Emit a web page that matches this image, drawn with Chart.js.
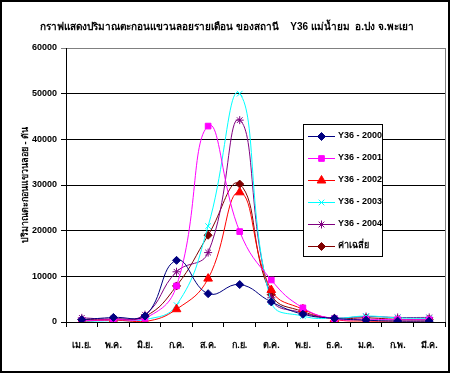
<!DOCTYPE html>
<html>
<head>
<meta charset="utf-8">
<script src="https://cdn.jsdelivr.net/npm/chart.js@4/dist/chart.umd.min.js"></script>
<style>
  html, body { margin: 0; padding: 0; background: #fff; }
  #wrap { position: relative; width: 451px; height: 374px; }
</style>
</head>
<body>
<div id="wrap"><canvas id="lineChart" width="451" height="374"></canvas></div>
<script>
// ข้อมูลตะกอนแขวนลอยรายเดือน สถานี Y36
const months = ['เม.ย.', 'พ.ค.', 'มิ.ย.', 'ก.ค.', 'ส.ค.', 'ก.ย.', 'ต.ค.', 'พ.ย.', 'ธ.ค.', 'ม.ค.', 'ก.พ.', 'มี.ค.'];
const y2000 = [500, 1000, 1300, 13500, 6200, 8200, 4400, 1700, 800, 400, 200, 200];
const y2001 = [300, 500, 800, 7900, 42900, 19800, 9200, 3100, 700, 600, 500, 500];
const y2002 = [200, 400, 100, 2800, 9500, 28400, 7000, 2800, 600, 200, 200, 200];
const y2003 = [100, 300, 500, 3700, 21000, 50000, 4400, 1300, 800, 1300, 900, 800];
const y2004 = [900, 700, 1600, 11000, 15200, 44200, 5300, 2000, 900, 1200, 1000, 1000];
const yAvg = [500, 600, 1200, 7900, 19000, 30200, 6000, 2300, 800, 900, 600, 600];
const yTicks = [0, 10000, 20000, 30000, 40000, 50000, 60000];

const FONT = '"Liberation Sans", "Noto Sans", sans-serif';

function series(label, data, color, style, radius) {
    return {
        label: label,
        data: data,
        borderColor: color,
        backgroundColor: color,
        pointStyle: style,
        pointRadius: radius,
        pointBorderColor: color,
        pointBackgroundColor: color,
        borderWidth: 1,
        tension: 0.45
    };
}

// กรอบรูป, ขอบพื้นที่กราฟ และคำอธิบายสัญลักษณ์
const frame = {
    id: 'frame',
    afterDraw(chart) {
        const c = chart.ctx;
        const a = chart.chartArea;
        c.save();
        c.strokeStyle = '#808080';
        c.lineWidth = 1;
        c.beginPath();
        c.moveTo(a.right + 0.5, a.top);
        c.lineTo(a.right + 0.5, a.bottom);
        c.stroke();
        c.strokeStyle = '#000';
        c.lineWidth = 2;
        c.strokeRect(1, 1, 448, 371);

        // legend box
        const lx = 303, ly = 124, lw = 79, lh = 132;
        c.fillStyle = '#fff';
        c.fillRect(lx, ly, lw, lh);
        c.lineWidth = 1;
        c.strokeStyle = '#000';
        c.strokeRect(lx + 0.5, ly + 0.5, lw, lh);
        c.font = 'bold 9px ' + FONT;
        c.textBaseline = 'middle';
        chart.data.datasets.forEach((ds, i) => {
            const yy = 136 + i * 22;
            c.strokeStyle = ds.borderColor;
            c.fillStyle = ds.borderColor;
            c.beginPath();
            c.moveTo(308, yy + 0.5);
            c.lineTo(335, yy + 0.5);
            c.stroke();
            Chart.helpers.drawPoint(c, {
                pointStyle: ds.pointStyle, radius: ds.pointRadius, borderWidth: 1
            }, 321.5, yy + 0.5);
            c.fillStyle = '#000';
            c.fillText(ds.label, 338, yy);
        });
        c.restore();
    }
};

const ctx = document.getElementById('lineChart').getContext('2d');

new Chart(ctx, {
    type: 'line',
    data: {
        labels: months,
        datasets: [
            series('Y36 - 2000', y2000, '#000080', 'rectRot', 4),
            series('Y36 - 2001', y2001, '#FF00FF', 'rect', 4),
            series('Y36 - 2002', y2002, '#FF0000', 'triangle', 5),
            series('Y36 - 2003', y2003, '#00FFFF', 'crossRot', 4),
            series('Y36 - 2004', y2004, '#800080', 'star', 4),
            series('ค่าเฉลี่ย', yAvg, '#800000', 'rectRot', 4)
        ]
    },
    plugins: [frame],
    options: {
        responsive: false,
        animation: false,
        devicePixelRatio: 1,
        layout: { padding: { left: 8, right: 5, top: 0, bottom: 0 } },
        plugins: {
            legend: { display: false },
            tooltip: { enabled: false },
            title: {
                display: true,
                text: 'กราฟแสดงปริมาณตะกอนแขวนลอยรายเดือน ของสถานี    Y36 แม่น้ำยม  อ.ปง จ.พะเยา',
                color: '#000',
                font: { family: FONT, size: 10, weight: 'bold', lineHeight: 1.2 },
                padding: { top: 21, bottom: 15 }
            }
        },
        scales: {
            x: {
                offset: true,
                grid: {
                    offset: true,
                    drawOnChartArea: false,
                    tickLength: 5,
                    color: '#000'
                },
                border: { color: '#000', width: 1 },
                ticks: {
                    color: '#000',
                    padding: 13,
                    maxRotation: 0,
                    autoSkip: false,
                    font: { family: FONT, size: 9, weight: 'bold' }
                },
                afterFit(scale) { scale.height = 52; }
            },
            y: {
                min: 0,
                max: 60000,
                afterBuildTicks(scale) { scale.ticks = yTicks.map(v => ({ value: v })); },
                grid: {
                    color: c => (c.tick && c.tick.value === 60000) ? '#808080' : '#000',
                    tickLength: 5,
                    lineWidth: 1
                },
                border: { color: '#000', width: 1 },
                ticks: {
                    color: '#000',
                    padding: 4,
                    callback: v => String(v),
                    font: { family: FONT, size: 9, weight: 'bold' }
                },
                title: {
                    display: true,
                    text: 'ปริมาณตะกอนแขวนลอย - ตัน',
                    color: '#000',
                    padding: { top: 12, bottom: 0 },
                    font: { family: FONT, size: 9, weight: 'bold' }
                },
                afterFit(scale) { scale.width = 58; }
            }
        }
    }
});
</script>
</body>
</html>
